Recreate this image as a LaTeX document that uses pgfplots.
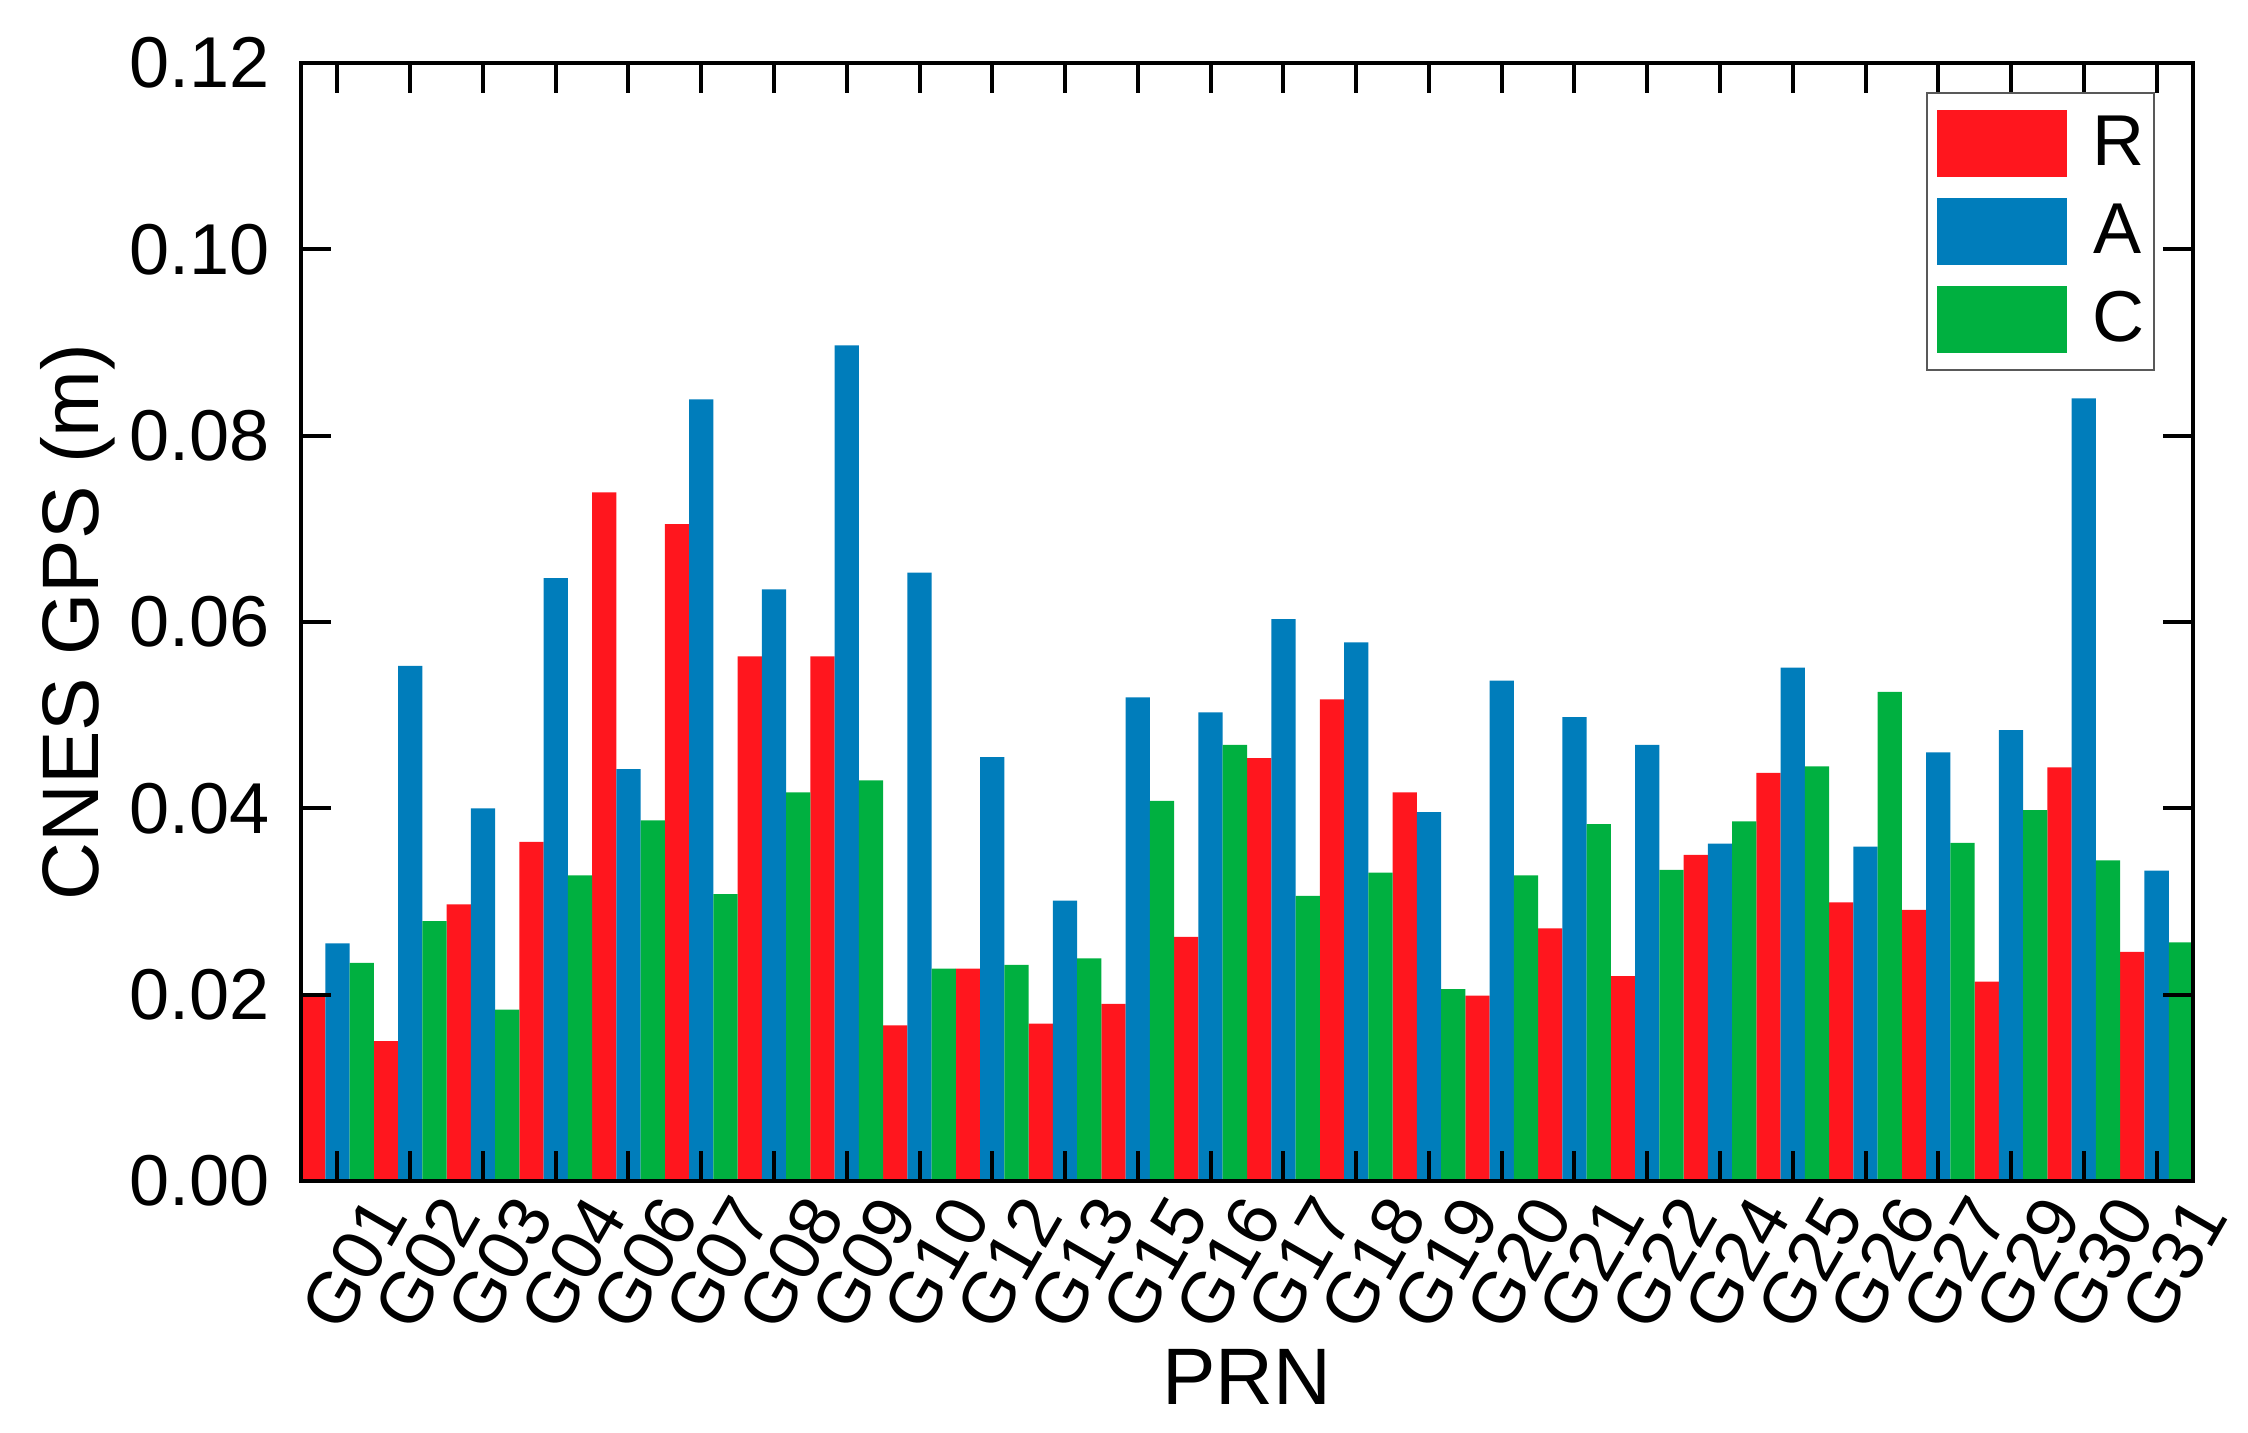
\documentclass[border=0pt]{standalone}
\usepackage{pgfplots}
\pgfplotsset{compat=1.18}
\usepackage{pgfplotstable}
\usepackage{fontspec}
\setmainfont{Liberation Sans}
\definecolor{cR}{RGB}{255,22,30}
\definecolor{cA}{RGB}{0,125,187}
\definecolor{cC}{RGB}{0,176,64}
\newcommand\tfont{\fontsize{20.5}{24}\selectfont}
\newcommand\lfont{\fontsize{22.8}{26}\selectfont}
\pgfplotstableread{
x R A C
0 0.0200 0.0255 0.0234
1 0.0150 0.0553 0.0279
2 0.0297 0.0400 0.0184
3 0.0364 0.0647 0.0328
4 0.0739 0.0442 0.0387
5 0.0705 0.0839 0.0308
6 0.0563 0.0635 0.0417
7 0.0563 0.0897 0.0430
8 0.0167 0.0653 0.0228
9 0.0228 0.0455 0.0232
10 0.0169 0.0301 0.0239
11 0.0190 0.0519 0.0408
12 0.0262 0.0503 0.0468
13 0.0454 0.0603 0.0306
14 0.0517 0.0578 0.0331
15 0.0417 0.0396 0.0206
16 0.0199 0.0537 0.0328
17 0.0271 0.0498 0.0383
18 0.0220 0.0468 0.0334
19 0.0350 0.0362 0.0386
20 0.0438 0.0551 0.0445
21 0.0299 0.0359 0.0525
22 0.0291 0.0460 0.0363
23 0.0214 0.0484 0.0398
24 0.0444 0.0840 0.0344
25 0.0246 0.0333 0.0256
}\data
\begin{document}
\begin{tikzpicture}
\begin{axis}[
  at={(0,0)}, anchor=south west,
  scale only axis, width=189.2mm, height=111.8mm,
  ybar=0pt, bar width=0.33333,
  enlargelimits=false,
  xmin=-0.5, xmax=25.5, ymin=0, ymax=0.12,
  ytick={0,0.02,0.04,0.06,0.08,0.10,0.12},
  xtick={0,...,25},
  xticklabels={G01,G02,G03,G04,G06,G07,G08,G09,G10,G12,G13,G15,G16,G17,G18,G19,G20,G21,G22,G24,G25,G26,G27,G29,G30,G31},
  tick align=inside, major tick length=3mm,
  tick style={black, line width=0.4mm},
  minor tick num=0,
  axis line style={line width=0.4mm},
  axis on top,
  tick label style={font=\tfont},
  /pgf/number format/assume math mode=true,
  yticklabel style={/pgf/number format/fixed, /pgf/number format/fixed zerofill, /pgf/number format/precision=2, inner sep=0pt, xshift=-3.1mm},
  xticklabel style={inner sep=0pt, anchor=center, yshift=-8.2mm, xshift=1.7mm, rotate=60},
  xlabel={PRN},
  xlabel style={at={(axis description cs:0.5,-0.20036)}, anchor=base, inner sep=0pt, font=\lfont},
  ylabel={CNES GPS (m)},
  ylabel style={at={(axis description cs:-0.13795,0.5)}, anchor=north, inner sep=0pt, font=\lfont},
  legend image code/.code={\fill[#1] (0mm,-3.35mm) rectangle (13mm,3.35mm);},
  legend style={at={(1,1)}, anchor=north east, xshift=-3.8mm, yshift=-2.9mm,
    draw=black!65, line width=0.55pt, fill=white,
    inner xsep=1mm, inner ysep=1.7mm, row sep=2.1mm, font=\tfont,
    nodes={inner sep=0pt},
    /tikz/every odd column/.append style={column sep=2.5mm}},
]
\addplot[fill=cR, draw=none] table[x=x, y=R]{\data};
\addlegendentry{R}
\addplot[fill=cA, draw=none] table[x=x, y=A]{\data};
\addlegendentry{A}
\addplot[fill=cC, draw=none] table[x=x, y=C]{\data};
\addlegendentry{C}
\end{axis}
\pgfresetboundingbox
\path (-30.1mm,-25.2mm) rectangle (194.7mm,118.1mm);
\end{tikzpicture}
\end{document}
